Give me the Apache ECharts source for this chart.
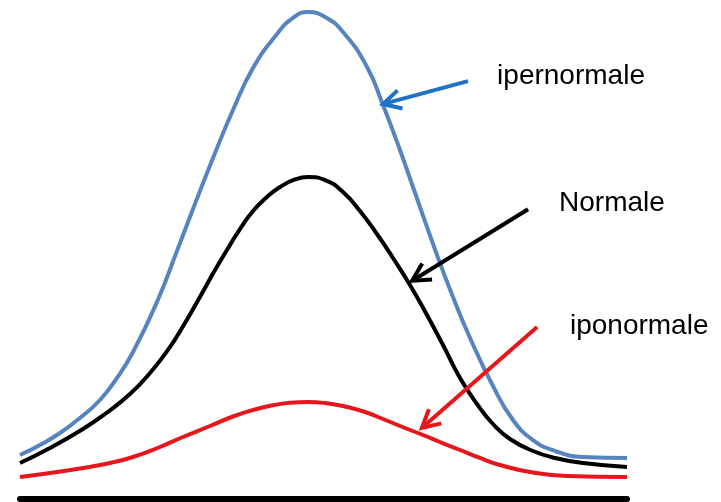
<!DOCTYPE html>
<html>
<head>
<meta charset="utf-8">
<script src="https://cdn.jsdelivr.net/npm/echarts@6/dist/echarts.min.js"></script>
<style>
  html, body { margin: 0; padding: 0; background: #ffffff; }
  #chart { width: 721px; height: 502px; }
</style>
</head>
<body>
<div id="chart"></div>
<script>
// ---- data (x: position across the distribution 0..100, y: relative height 0..100) ----
var ipernormale = [
  [0, 9.03], [3.29, 11.09], [6.59, 13.55], [9.88, 16.63], [13.18, 20.33], [15.98, 24.85],
  [18.62, 30.18], [22.57, 40.45], [25.86, 50.92], [28.50, 59.55], [31.80, 70.02],
  [35.09, 79.88], [38.39, 88.50], [42.34, 95.48], [44.98, 98.77], [47.45, 100],
  [50.25, 98.97], [53.21, 95.89], [57.17, 88.71], [59.80, 80.90], [62.60, 71.66],
  [64.74, 64.07], [68.70, 50.10], [71.33, 41.48], [74.14, 33.06], [77.92, 23.20],
  [81.22, 16.22], [84.51, 12.11], [88.14, 9.86], [92.75, 8.62], [100, 8.42]
];
var normale = [
  [0, 7.39], [4.94, 10.47], [10.38, 14.37], [14.00, 17.45], [18.12, 21.56], [21.42, 25.87],
  [24.38, 30.60], [27.18, 36.14], [29.82, 41.89], [32.13, 47.02], [34.60, 52.16],
  [36.24, 55.44], [38.39, 59.14], [40.69, 62.01], [42.83, 64.07], [45.30, 65.61],
  [47.45, 66.12], [50.25, 65.50], [53.21, 63.04], [56.01, 59.14], [58.81, 54.41],
  [61.45, 49.49], [64.25, 43.94], [67.05, 37.78], [69.69, 31.62], [72.49, 24.85],
  [75.29, 19.51], [77.92, 15.40], [80.72, 12.32], [84.51, 9.86], [88.14, 8.42],
  [92.75, 7.39], [100, 6.57]
];
var iponormale = [
  [0, 4.52], [4.94, 5.34], [10.38, 6.37], [14.83, 7.39], [18.62, 8.62], [23.06, 10.68],
  [26.85, 12.73], [31.30, 14.99], [35.09, 16.94], [38.71, 18.38], [41.68, 19.24],
  [44.48, 19.75], [47.45, 19.92], [50.25, 19.71], [53.21, 19.10], [56.84, 17.86],
  [59.80, 16.43], [62.60, 14.99], [66.39, 13.14], [69.19, 11.70], [72.49, 10.06],
  [75.78, 8.42], [79.08, 6.98], [84.02, 5.54], [90.12, 4.72], [100, 4.52]
];
// annotation arrows: [startX, startY, tipX, tipY]
var arrows = [
  [73.8, 85.8, 59.8, 81.1],
  [83.7, 59.5, 64.6, 44.8],
  [85.2, 35.3, 66.2, 14.6]
];
var labelNames = ['ipernormale', 'Normale', 'iponormale'];
var labelPos = [[78.6, 86.7], [88.8, 60.8], [90.6, 35.5]];

// ---- styles ----
var curveColors = ['#5584BF', '#000000', '#E5161C'];
var arrowColors = ['#1E73C2', '#000000', '#E5161C'];

var chart = echarts.init(document.getElementById('chart'), null, { renderer: 'canvas' });

function curve(name, data, color) {
  return {
    name: name,
    type: 'line',
    data: data,
    smooth: 0.5,
    showSymbol: false,
    symbol: 'none',
    clip: false,
    lineStyle: { color: color, width: 4 },
    silent: true,
    z: 3
  };
}

var option = {
  animation: false,
  backgroundColor: '#ffffff',
  grid: { left: 20, right: 94, top: 12, bottom: 3 },
  xAxis: {
    type: 'value', min: 0, max: 100,
    axisLine: { show: true, onZero: false, lineStyle: { color: '#000000', width: 6 } },
    axisTick: { show: false }, axisLabel: { show: false }, splitLine: { show: false }
  },
  yAxis: {
    type: 'value', min: 0, max: 100, show: false,
    splitLine: { show: false }
  },
  series: [
    curve('ipernormale', ipernormale, curveColors[0]),
    curve('Normale', normale, curveColors[1]),
    curve('iponormale', iponormale, curveColors[2]),
    {
      type: 'custom',
      coordinateSystem: 'cartesian2d',
      data: arrows,
      encode: { x: [0, 2], y: [1, 3] },
      clip: false,
      silent: true,
      z: 5,
      renderItem: function (params, api) {
        var s = api.coord([api.value(0), api.value(1)]);
        var t = api.coord([api.value(2), api.value(3)]);
        var ang = Math.atan2(s[1] - t[1], s[0] - t[0]);
        var L = 20, a = 28 * Math.PI / 180;
        var p1 = [t[0] + L * Math.cos(ang + a), t[1] + L * Math.sin(ang + a)];
        var p2 = [t[0] + L * Math.cos(ang - a), t[1] + L * Math.sin(ang - a)];
        var c = arrowColors[params.dataIndex];
        return {
          type: 'group',
          children: [
            { type: 'line', shape: { x1: s[0], y1: s[1], x2: t[0] + 1.5 * Math.cos(ang), y2: t[1] + 1.5 * Math.sin(ang) },
              style: { stroke: c, lineWidth: 4, lineCap: 'butt' } },
            { type: 'polyline', shape: { points: [p1, t, p2] },
              style: { stroke: c, lineWidth: 4, fill: null, lineJoin: 'miter', lineCap: 'butt' } }
          ]
        };
      }
    },
    {
      type: 'custom',
      coordinateSystem: 'cartesian2d',
      data: labelPos,
      encode: { x: 0, y: 1 },
      clip: false,
      silent: true,
      z: 6,
      renderItem: function (params, api) {
        var p = api.coord([api.value(0), api.value(1)]);
        return {
          type: 'text',
          x: p[0], y: p[1],
          style: {
            text: labelNames[params.dataIndex],
            fill: '#000000',
            fontSize: 28,
            fontFamily: '"Liberation Sans", Arial, sans-serif',
            align: 'left',
            verticalAlign: 'middle'
          }
        };
      }
    }
  ]
};
chart.setOption(option);
</script>
</body>
</html>
